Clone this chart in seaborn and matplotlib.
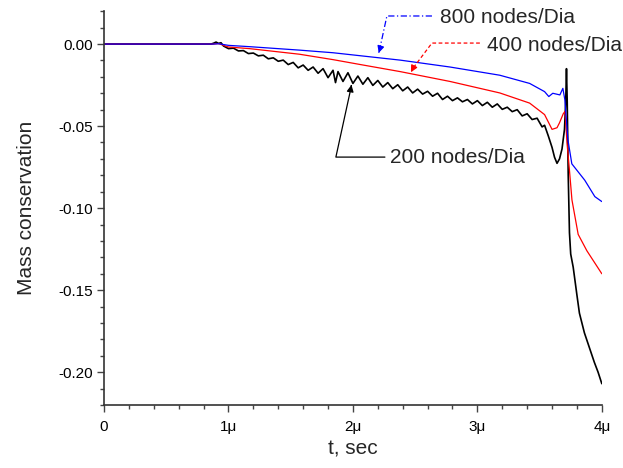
import matplotlib
matplotlib.use("Agg")
import matplotlib.pyplot as plt
import seaborn as sns
import pandas as pd
from matplotlib.ticker import MultipleLocator, FixedLocator, FixedFormatter

sns.set_theme(style="ticks")
plt.rcParams['font.family'] = ['Liberation Sans', 'DejaVu Sans']

# time in microseconds
t_200 = [0.00, 0.86, 0.88, 0.90, 0.92, 0.94, 0.96, 1.00, 1.04, 1.08, 1.12, 1.16, 1.20, 1.24, 1.28,
         1.32, 1.36, 1.40, 1.44, 1.48, 1.52, 1.56, 1.60, 1.64, 1.68, 1.72, 1.76, 1.80, 1.84, 1.86,
         1.88, 1.92, 1.96, 2.00, 2.04, 2.08, 2.12, 2.16, 2.20, 2.24, 2.28, 2.32, 2.36, 2.40, 2.44,
         2.48, 2.52, 2.56, 2.60, 2.64, 2.68, 2.72, 2.76, 2.80, 2.84, 2.88, 2.92, 2.96, 3.00, 3.04,
         3.08, 3.12, 3.16, 3.20, 3.24, 3.28, 3.32, 3.36, 3.40, 3.44, 3.48, 3.52, 3.54, 3.57, 3.60,
         3.62, 3.64, 3.66, 3.68, 3.70, 3.71, 3.716, 3.722, 3.73, 3.74, 3.75, 3.77, 3.80, 3.82, 3.86,
         3.90, 3.94, 3.97, 4.00]
m_200 = [0.0, 0.0, 0.0005, 0.0012, 0.0004, 0.0008, -0.0012, -0.0028, -0.0025, -0.0042, -0.0040,
         -0.0058, -0.0055, -0.0072, -0.0068, -0.0090, -0.0084, -0.0105, -0.0098, -0.0125, -0.0112,
         -0.0145, -0.0128, -0.0160, -0.0140, -0.0178, -0.0150, -0.0205, -0.0160, -0.0235, -0.0168,
         -0.0228, -0.0175, -0.0240, -0.0195, -0.0245, -0.0205, -0.0252, -0.0222, -0.0262, -0.0235,
         -0.0272, -0.0248, -0.0285, -0.0262, -0.0298, -0.0275, -0.0305, -0.0288, -0.0318, -0.0300,
         -0.0338, -0.0318, -0.0345, -0.0328, -0.0352, -0.0338, -0.0365, -0.0345, -0.0375, -0.0355,
         -0.0385, -0.0365, -0.0398, -0.0385, -0.0412, -0.0400, -0.0438, -0.0425, -0.0460, -0.0452,
         -0.0505, -0.0495, -0.0560, -0.0630, -0.0690, -0.0727, -0.0700, -0.0640, -0.0520, -0.0350,
         -0.0150, -0.0350, -0.0800, -0.1150, -0.1280, -0.1360, -0.1530, -0.1640, -0.1760, -0.1850,
         -0.1940, -0.2000, -0.2070]

t_400 = [0.00, 0.88, 0.92, 0.96, 1.00, 1.17, 1.57, 1.84, 2.06, 2.38, 2.78, 3.18, 3.42, 3.54, 3.60,
         3.64, 3.66, 3.69, 3.705, 3.72, 3.74, 3.76, 3.81, 3.88, 3.94, 4.00]
m_400 = [0.0, 0.0, 0.0003, -0.0008, -0.0018, -0.0028, -0.0062, -0.0095, -0.0125, -0.0168, -0.0228,
         -0.0298, -0.0360, -0.0430, -0.0520, -0.0510, -0.0480, -0.0425, -0.0410, -0.0600, -0.0770,
         -0.0950, -0.1160, -0.1260, -0.1330, -0.1400]

t_800 = [0.00, 0.88, 0.92, 0.96, 1.00, 1.17, 1.57, 1.84, 2.38, 2.78, 3.18, 3.42, 3.54, 3.574, 3.606,
         3.663, 3.687, 3.703, 3.727, 3.759, 3.863, 3.944, 4.00]
m_800 = [0.0, 0.0, 0.0002, -0.0003, -0.0008, -0.0016, -0.0037, -0.0053, -0.0098, -0.0140, -0.0190,
         -0.0240, -0.0290, -0.0320, -0.0300, -0.0310, -0.0270, -0.0340, -0.0580, -0.0730, -0.0830,
         -0.0930, -0.0960]

x_ticks = [0, 1, 2, 3, 4]
x_tick_labels = ["0", "1\u03bc", "2\u03bc", "3\u03bc", "4\u03bc"]
y_ticks = [0.00, -0.05, -0.10, -0.15, -0.20]
y_tick_labels = ["0.00", "-0.05", "-0.10", "-0.15", "-0.20"]
labels = ["800 nodes/Dia", "400 nodes/Dia", "200 nodes/Dia"]

fig = plt.figure(figsize=(6.23, 4.68), dpi=100)
ax = fig.add_axes([0.167, 0.1346, 0.799, 0.8414])

sns.lineplot(x=t_200, y=m_200, ax=ax, color="black", lw=1.2, estimator=None, sort=False)
sns.lineplot(x=t_400, y=m_400, ax=ax, color="red", lw=0.9, estimator=None, sort=False)
sns.lineplot(x=t_800, y=m_800, ax=ax, color="blue", lw=0.9, estimator=None, sort=False)

ax.set_xlim(0, 4.0)
ax.set_ylim(-0.22, 0.02)
ax.xaxis.set_major_locator(FixedLocator(x_ticks))
ax.xaxis.set_major_formatter(FixedFormatter(x_tick_labels))
ax.yaxis.set_major_locator(FixedLocator(y_ticks))
ax.yaxis.set_major_formatter(FixedFormatter(y_tick_labels))
ax.xaxis.set_minor_locator(MultipleLocator(0.2))
ax.yaxis.set_minor_locator(MultipleLocator(0.01))
ax.tick_params(which="major", direction="out", length=5, width=1, color="#444444",
               labelsize=11, pad=3, labelcolor="black")
ax.tick_params(axis="x", which="major", pad=6)
ax.tick_params(which="minor", direction="out", length=3, width=1, color="#444444")
for s in ["top", "right"]:
    ax.spines[s].set_visible(False)
for s in ["left", "bottom"]:
    ax.spines[s].set_color("#333333")
    ax.spines[s].set_linewidth(1.2)

ax.set_xlabel("t, sec", fontsize=15, labelpad=4)
ax.set_ylabel("Mass conservation", fontsize=15, labelpad=16)

# annotations
ax.plot([2.635, 2.273, 2.211], [0.0171, 0.0171, -0.0045], color="blue", lw=0.9, ls=(0, (5, 2, 1, 2)))
ax.annotate("", xy=(2.201, -0.0070), xytext=(2.215, -0.0035),
            arrowprops=dict(arrowstyle="-|>", color="blue", lw=0.9, mutation_scale=10))
ax.text(2.70, 0.0159, labels[0], fontsize=15, va="center", ha="left")

ax.plot([3.02, 2.635, 2.48], [0.0006, 0.0006, -0.0150], color="red", lw=0.9, ls=(0, (3, 2)))
ax.annotate("", xy=(2.466, -0.0172), xytext=(2.485, -0.0145),
            arrowprops=dict(arrowstyle="-|>", color="red", lw=0.9, mutation_scale=10))
ax.text(3.077, -0.0006, labels[1], fontsize=15, va="center", ha="left")

ax.plot([2.257, 1.863, 1.985], [-0.0689, -0.0689, -0.0265], color="black", lw=0.9)
ax.annotate("", xy=(1.992, -0.0232), xytext=(1.983, -0.0270),
            arrowprops=dict(arrowstyle="-|>", color="black", lw=0.9, mutation_scale=10))
ax.text(2.297, -0.0689, labels[2], fontsize=15, va="center", ha="left")

fig.savefig("out.png", dpi=100)
